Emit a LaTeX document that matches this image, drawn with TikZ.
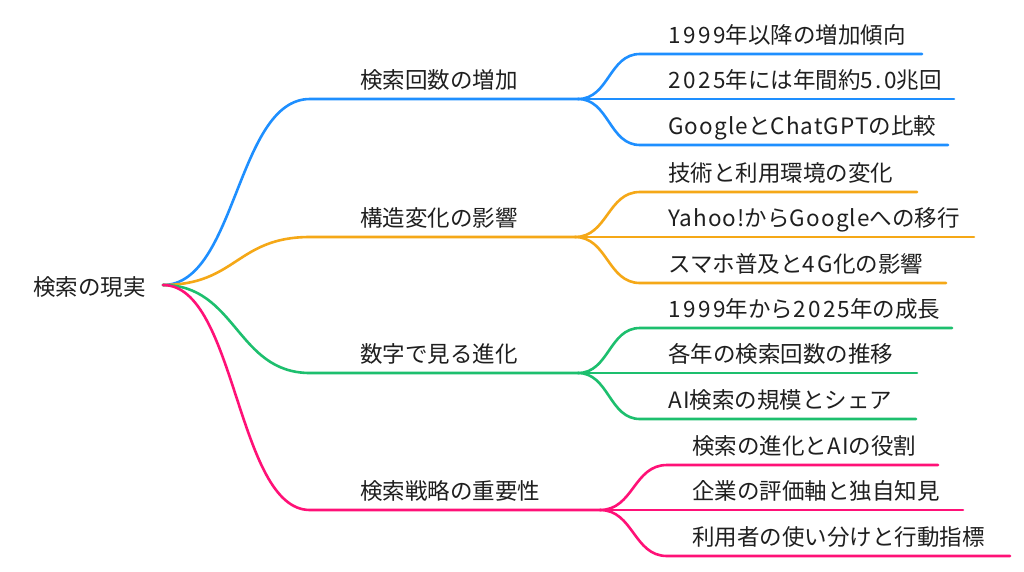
\documentclass[tikz,border=0pt]{standalone}
\usepackage{fontspec}
\setmainfont{Noto Sans CJK JP}
\newfontfamily\mydigitfont[LetterSpace=11]{Noto Sans CJK JP}
\newfontfamily\mylatinfont[LetterSpace=5]{Noto Sans CJK JP}
\newcommand\mydg[1]{{\mydigitfont #1}}
\newcommand\mylt[1]{{\mylatinfont #1}}
\definecolor{cblue}{HTML}{1E8FFF}
\definecolor{corange}{HTML}{F5A817}
\definecolor{cgreen}{HTML}{1DBF6E}
\definecolor{cpink}{HTML}{FF1177}
\begin{document}
\begin{tikzpicture}[x=1pt,y=-1pt,
  lbl/.style={anchor=base west, inner sep=0pt, text=black!88, font=\fontsize{22.5}{27}\selectfont},
  link/.style={line width=2.6pt, line cap=round}]
\useasboundingbox (0,0) rectangle (1024,571);
\fill[white] (0,0) rectangle (1024,571);

% root
\node[lbl] (rt) at (33,295) {検索の現実};
\coordinate (r) at (163,285);

% ---------- blue ----------
\coordinate (b) at (310,99);  \coordinate (bj) at (578,99);
\node[lbl] (bl) at (360,88) {検索回数の増加};
\coordinate (b1) at (640,54);  \coordinate (b1e) at (922,54);
\coordinate (b2) at (640,99);  \coordinate (b2e) at (954,99);
\coordinate (b3) at (640,145); \coordinate (b3e) at (948,145);
\node[lbl] (bt1) at (668,43)  {\mydg{1999}年以降の増加傾向};
\node[lbl] (bt2) at (668,88)  {\mydg{2025}年には年間約\mydg{5.0}兆回};
\node[lbl] (bt3) at (668,134) {\mylt{Google}と\mylt{ChatGPT}の比較};
\begin{scope}[link, draw=cblue]
\draw (r) .. controls +(73.5,0) and +(-73.5,0) .. (b) -- (bj);
\draw (bj) .. controls +(31,0) and +(-31,0) .. (b1) -- (b1e);
\draw (bj) -- (b2) -- (b2e);
\draw (bj) .. controls +(31,0) and +(-31,0) .. (b3) -- (b3e);
\end{scope}

% ---------- orange ----------
\coordinate (o) at (310,237);  \coordinate (oj) at (575,237);
\node[lbl] (ol) at (360,226) {構造変化の影響};
\coordinate (o1) at (640,192); \coordinate (o1e) at (917,192);
\coordinate (o2) at (640,237); \coordinate (o2e) at (974,237);
\coordinate (o3) at (640,283); \coordinate (o3e) at (946,283);
\node[lbl] (ot1) at (668,181) {技術と利用環境の変化};
\node[lbl] (ot2) at (668,226) {\mylt{Yahoo!}から\mylt{Google}への移行};
\node[lbl] (ot3) at (668,272) {スマホ普及と\mydg{4G}化の影響};
\begin{scope}[link, draw=corange]
\draw (r) .. controls +(73.5,0) and +(-73.5,0) .. (o) -- (oj);
\draw (oj) .. controls +(32.5,0) and +(-32.5,0) .. (o1) -- (o1e);
\draw (oj) -- (o2) -- (o2e);
\draw (oj) .. controls +(32.5,0) and +(-32.5,0) .. (o3) -- (o3e);
\end{scope}

% ---------- green ----------
\coordinate (g) at (310,373);  \coordinate (gj) at (578,373);
\node[lbl] (gl) at (360,362) {数字で見る進化};
\coordinate (g1) at (640,328); \coordinate (g1e) at (952,328);
\coordinate (g2) at (640,373); \coordinate (g2e) at (917,373);
\coordinate (g3) at (640,419); \coordinate (g3e) at (916,419);
\node[lbl] (gt1) at (668,317) {\mydg{1999}年から\mydg{2025}年の成長};
\node[lbl] (gt2) at (668,362) {各年の検索回数の推移};
\node[lbl] (gt3) at (668,408) {\mylt{AI}検索の規模とシェア};
\begin{scope}[link, draw=cgreen]
\draw (r) .. controls +(73.5,0) and +(-73.5,0) .. (g) -- (gj);
\draw (gj) .. controls +(31,0) and +(-31,0) .. (g1) -- (g1e);
\draw (gj) -- (g2) -- (g2e);
\draw (gj) .. controls +(31,0) and +(-31,0) .. (g3) -- (g3e);
\end{scope}

% ---------- pink ----------
\coordinate (p) at (310,510);  \coordinate (pj) at (600,510);
\node[lbl] (pl) at (360,499) {検索戦略の重要性};
\coordinate (p1) at (667,465); \coordinate (p1e) at (938,465);
\coordinate (p2) at (667,510); \coordinate (p2e) at (963,510);
\coordinate (p3) at (667,556); \coordinate (p3e) at (1010,556);
\node[lbl] (pt1) at (692,454) {検索の進化と\mylt{AI}の役割};
\node[lbl] (pt2) at (692,499) {企業の評価軸と独自知見};
\node[lbl] (pt3) at (692,545) {利用者の使い分けと行動指標};
\begin{scope}[link, draw=cpink]
\draw (r) .. controls +(73.5,0) and +(-73.5,0) .. (p) -- (pj);
\draw (pj) .. controls +(33.5,0) and +(-33.5,0) .. (p1) -- (p1e);
\draw (pj) -- (p2) -- (p2e);
\draw (pj) .. controls +(33.5,0) and +(-33.5,0) .. (p3) -- (p3e);
\end{scope}
\end{tikzpicture}
\end{document}
